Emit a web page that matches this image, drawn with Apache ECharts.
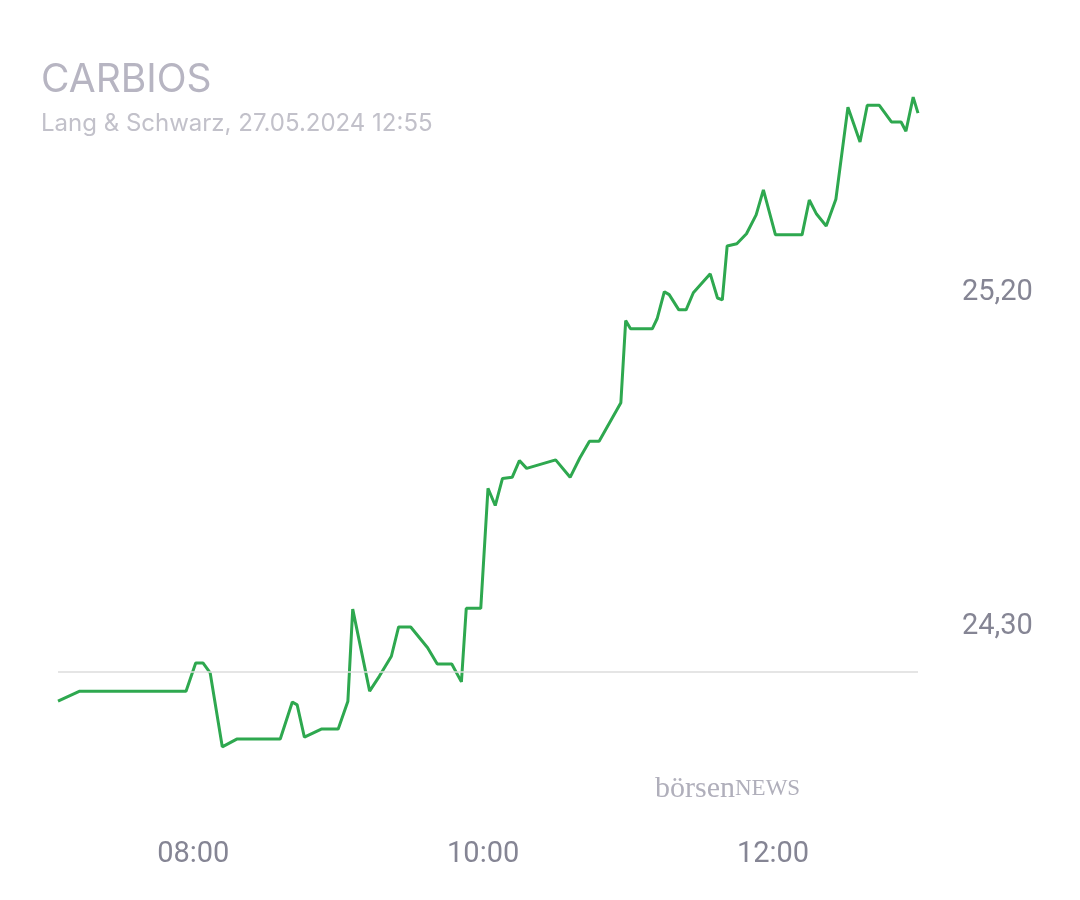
<!DOCTYPE html>
<html>
<head>
<meta charset="utf-8">
<script src="https://cdn.jsdelivr.net/npm/echarts@6/dist/echarts.min.js"></script>
<style>html,body{margin:0;background:#fff}#chart{width:1080px;height:900px}</style>
</head>
<body>
<div id="chart"></div>
<script>
const times = ["07:04","07:13","07:57","08:01","08:04","08:07","08:12","08:18","08:36","08:41","08:43","08:46","08:53","09:00","09:04","09:06","09:13","09:17","09:22","09:25","09:30","09:37","09:41","09:47","09:51","09:53","09:59","10:02","10:05","10:08","10:12","10:15","10:18","10:30","10:36","10:40","10:44","10:48","10:57","10:59","11:01","11:10","11:12","11:15","11:17","11:21","11:24","11:27","11:34","11:37","11:39","11:41","11:45","11:49","11:53","11:56","12:01","12:12","12:15","12:18","12:22","12:26","12:31","12:36","12:39","12:44","12:49","12:53","12:55","12:58","13:00"]
const prices = [24.10,24.127,24.127,24.203,24.203,24.176,23.977,23.998,23.998,24.098,24.09,24.003,24.025,24.025,24.10,24.348,24.127,24.167,24.221,24.30,24.30,24.244,24.20,24.20,24.152,24.35,24.35,24.673,24.627,24.70,24.703,24.748,24.727,24.75,24.703,24.755,24.80,24.80,24.904,25.125,25.103,25.103,25.13,25.203,25.195,25.154,25.154,25.20,25.251,25.186,25.181,25.326,25.332,25.359,25.41,25.477,25.356,25.356,25.45,25.412,25.38,25.452,25.70,25.606,25.705,25.705,25.66,25.66,25.635,25.727,25.684]
const prevClose = 24.176
const yLabels = [24.30, 25.20]
const xLabels = {480: "08:00", 600: "10:00", 720: "12:00"}

function toMin(s) {
    const p = s.split(":")
    return +p[0] * 60 + +p[1]
}

const chart = echarts.init(document.getElementById("chart"))
chart.setOption({
    animation: false,
    grid: {left: 58, right: 162, top: 96, bottom: 80},
    title: {
        text: "CARBIOS",
        subtext: "Lang & Schwarz, 27.05.2024 12:55",
        left: 36, top: 56, itemGap: 12,
        textStyle: {color: "#b7b5c2", fontSize: 39, fontWeight: "normal", fontFamily: "Inter"},
        subtextStyle: {color: "#c2c1ca", fontSize: 24, fontFamily: "Inter"}
    },
    xAxis: {
        type: "value", min: 424, max: 780, interval: 4,
        axisLine: {show: false}, axisTick: {show: false}, splitLine: {show: false},
        axisLabel: {
            interval: 0, color: "#858594", fontSize: 29, margin: 20, fontFamily: "Roboto",
            formatter: function (v) { return xLabels[v] || "" }
        }
    },
    yAxis: {
        type: "value", position: "right", min: 23.78, max: 25.73, interval: 0.01,
        axisLine: {show: false}, axisTick: {show: false}, splitLine: {show: false},
        axisLabel: {
            interval: 0, color: "#858594", fontSize: 29, margin: 44, fontFamily: "Roboto",
            formatter: function (v) {
                for (const l of yLabels) if (Math.abs(v - l) < 0.001) return l.toFixed(2).replace(".", ",")
                return ""
            }
        }
    },
    graphic: [{
        type: "text", left: 655, top: 774,
        style: {
            text: "{a|börsen}{b|NEWS}",
            rich: {
                a: {fill: "#b0afbb", font: "30px 'Liberation Serif'"},
                b: {fill: "#b0afbb", font: "23px 'Liberation Serif'"}
            }
        }
    }],
    series: [{
        type: "line",
        data: times.map((t, i) => [toMin(t), prices[i]]),
        showSymbol: false,
        lineStyle: {color: "#2ea84f", width: 3},
        markLine: {
            silent: true, symbol: "none", label: {show: false},
            lineStyle: {color: "#dcdcdc", type: "solid", width: 1.5},
            data: [{yAxis: prevClose}]
        }
    }]
})
</script>
</body>
</html>
